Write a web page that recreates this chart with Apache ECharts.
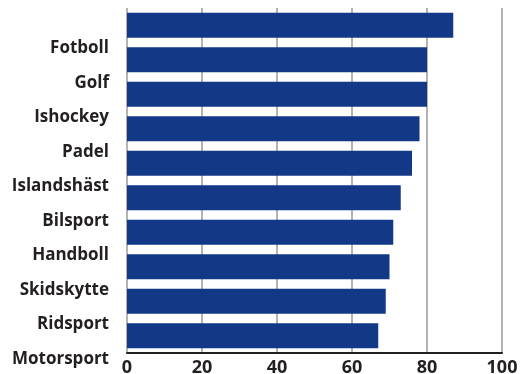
<!DOCTYPE html>
<html><head><meta charset="utf-8">
<script src="https://cdn.jsdelivr.net/npm/echarts@6/dist/echarts.min.js"></script>
<style>html,body{margin:0;padding:0;background:#fff}#c{width:523px;height:374px}</style>
</head><body><div id="c"></div>
<script>
var categories = ['Fotboll','Golf','Ishockey','Padel','Islandshäst','Bilsport','Handboll','Skidskytte','Ridsport','Motorsport'];
var values = [87, 80, 80, 78, 76, 73, 71, 70, 69, 67];
var xTicks = [0, 20, 40, 60, 80, 100];

var chart = echarts.init(document.getElementById('c'), null, {renderer:'canvas'});
chart.setOption({
  animation: false,
  grid: {left: 127, right: 21, top: 8, bottom: 21, containLabel: false, outerBoundsMode: 'none'},
  xAxis: {
    type: 'value', min: xTicks[0], max: xTicks[xTicks.length-1], interval: 20,
    axisLine: {show: true, lineStyle: {color: '#231f20', width: 2}},
    axisTick: {show: false},
    splitLine: {show: true, lineStyle: {color: '#b3b3b3', width: 2}},
    axisLabel: {color: '#231f20', fontFamily: 'Open Sans', fontWeight: 'bold', fontSize: 18, margin: 6}
  },
  yAxis: {
    type: 'category', data: categories, inverse: true,
    axisLine: {show: false}, axisTick: {show: false},
    axisLabel: {color: '#231f20', fontFamily: 'Open Sans', fontWeight: 'bold', fontSize: 17, margin: 18,
      verticalAlign: 'top', lineHeight: 46, interval: 0, hideOverlap: false,
      showMinLabel: true, showMaxLabel: true}
  },
  series: [{
    type: 'bar', data: values, barWidth: 25,
    itemStyle: {color: '#133887'}
  }]
});
</script></body></html>
